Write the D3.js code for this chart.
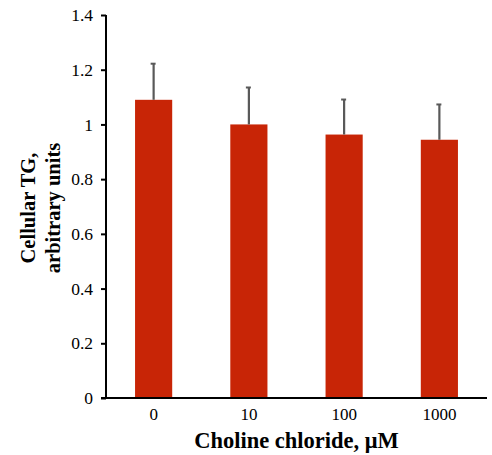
<!DOCTYPE html>
<html>
<head>
<meta charset="utf-8">
<script src="https://cdn.jsdelivr.net/npm/d3@7"></script>
<style>
  body { margin: 0; background: #fff; }
  text { font-family: "Liberation Serif", "Times New Roman", serif; }
</style>
</head>
<body>
<div id="chart"></div>
<script>
// data
var categories = ["0", "10", "100", "1000"];
var means = [1.09, 1.0, 0.963, 0.944];
var errors = [0.132, 0.135, 0.128, 0.129];
var yTicks = [0, 0.2, 0.4, 0.6, 0.8, 1, 1.2, 1.4];

var width = 492, height = 455;
var margin = { top: 15, right: 5, bottom: 57, left: 106 };

var svg = d3.select("#chart")
  .append("svg")
  .attr("width", width)
  .attr("height", height);

var x = d3.scaleBand()
  .domain(categories)
  .range([margin.left, width - margin.right])
  .paddingInner(0.61)
  .paddingOuter(0.305);

var y = d3.scaleLinear()
  .domain([0, 1.4])
  .range([height - margin.bottom, margin.top]);

var rows = categories.map(function (c, i) {
  return { cat: c, mean: means[i], err: errors[i] };
});

// bars
svg.selectAll(".bar")
  .data(rows)
  .enter()
  .append("rect")
  .attr("class", "bar")
  .attr("x", function (d) { return x(d.cat); })
  .attr("width", x.bandwidth())
  .attr("y", function (d) { return y(d.mean); })
  .attr("height", function (d) { return y(0) - y(d.mean); })
  .attr("fill", "#c82506");

// error bars (upper only)
var eb = svg.selectAll(".err")
  .data(rows)
  .enter()
  .append("g")
  .attr("class", "err");

eb.append("line")
  .attr("x1", function (d) { return x(d.cat) + x.bandwidth() / 2; })
  .attr("x2", function (d) { return x(d.cat) + x.bandwidth() / 2; })
  .attr("y1", function (d) { return y(d.mean); })
  .attr("y2", function (d) { return y(d.mean + d.err); })
  .attr("stroke", "#595959")
  .attr("stroke-width", 2.2);

eb.append("line")
  .attr("x1", function (d) { return x(d.cat) + x.bandwidth() / 2 - 3; })
  .attr("x2", function (d) { return x(d.cat) + x.bandwidth() / 2 + 2; })
  .attr("y1", function (d) { return y(d.mean + d.err); })
  .attr("y2", function (d) { return y(d.mean + d.err); })
  .attr("stroke", "#595959")
  .attr("stroke-width", 2);

// y axis
var yAxis = svg.append("g")
  .attr("transform", "translate(" + margin.left + ",0)")
  .call(d3.axisLeft(y).tickValues(yTicks).tickSize(5).tickPadding(8)
    .tickFormat(function (d) { return String(d); }));
yAxis.select(".domain").attr("stroke", "#000").attr("stroke-width", 2)
  .attr("d", "M0," + (margin.top) + "V" + y(0));
yAxis.selectAll(".tick line").attr("stroke", "#000").attr("stroke-width", 2);
yAxis.selectAll(".tick text")
  .attr("font-size", "17.5px")
  .attr("fill", "#000");

// x axis
var xAxis = svg.append("g")
  .attr("transform", "translate(0," + y(0) + ")")
  .call(d3.axisBottom(x).tickSize(0).tickPadding(10));
xAxis.select(".domain").attr("stroke", "#000").attr("stroke-width", 2)
  .attr("d", "M" + (margin.left - 5) + ",0H" + (width - margin.right));
xAxis.selectAll(".tick text")
  .attr("font-size", "17px")
  .attr("fill", "#000");

// axis titles
svg.append("text")
  .attr("x", (margin.left + width - margin.right) / 2)
  .attr("y", 448)
  .attr("text-anchor", "middle")
  .attr("font-size", "22.5px")
  .attr("font-weight", "bold")
  .text("Choline chloride, \u03bcM");

var yt = svg.append("text")
  .attr("transform", "translate(0,208) rotate(-90)")
  .attr("text-anchor", "middle")
  .attr("font-size", "20.5px")
  .attr("font-weight", "bold");
yt.append("tspan").attr("x", 0).attr("y", 35).text("Cellular TG,");
yt.append("tspan").attr("x", 0).attr("y", 60).text("arbitrary units");
</script>
</body>
</html>
